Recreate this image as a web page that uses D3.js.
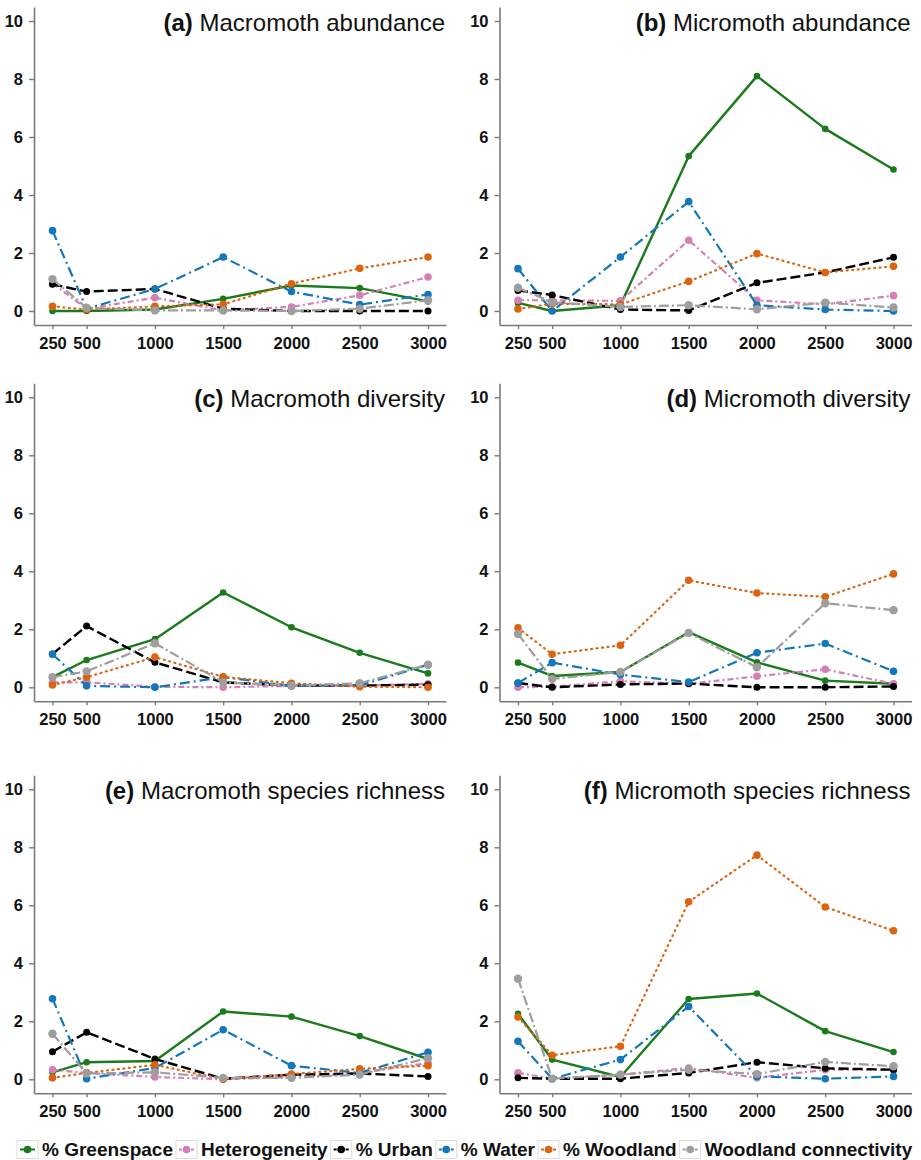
<!DOCTYPE html>
<html>
<head>
<meta charset="utf-8">
<script src="https://cdn.jsdelivr.net/npm/d3@7"></script>
<style>
  html, body { margin: 0; padding: 0; background: #fff; }
  svg { display: block; font-family: "Liberation Sans", Arial, Helvetica, sans-serif; }
</style>
</head>
<body>
<svg id="chart" width="921" height="1160"></svg>
<script>
// ---------- data ----------
const distances = [250, 500, 1000, 1500, 2000, 2500, 3000];
const yTicks = [0, 2, 4, 6, 8, 10];
const seriesNames = ["% Greenspace", "Heterogeneity", "% Urban", "% Water", "% Woodland", "Woodland connectivity"];
const panelLetters = ["(a)", "(b)", "(c)", "(d)", "(e)", "(f)"];
const panelTitles = ["Macromoth abundance", "Micromoth abundance", "Macromoth diversity",
                     "Micromoth diversity", "Macromoth species richness", "Micromoth species richness"];

// each panel: one row per series (Greenspace, Heterogeneity, Urban, Water, Woodland, Woodland connectivity)
const panelA = [
  [0, 0, 0.05, 0.42, 0.88, 0.79, 0.33],
  [0.95, 0.08, 0.46, 0.02, 0.14, 0.54, 1.17],
  [0.92, 0.67, 0.76, 0.08, 0, 0, 0],
  [2.77, 0.08, 0.76, 1.86, 0.67, 0.22, 0.57],
  [0.16, 0.05, 0.16, 0.23, 0.94, 1.47, 1.86],
  [1.10, 0.11, 0.02, 0.02, 0, 0.08, 0.37]
];
const panelB = [
  [0.28, 0, 0.20, 5.34, 8.10, 6.28, 4.88],
  [0.37, 0.37, 0.35, 2.44, 0.37, 0.23, 0.53],
  [0.71, 0.55, 0.05, 0.02, 0.97, 1.33, 1.85],
  [1.46, 0, 1.86, 3.77, 0.20, 0.05, 0],
  [0.07, 0.25, 0.23, 1.02, 1.98, 1.33, 1.54],
  [0.80, 0.30, 0.14, 0.20, 0.06, 0.29, 0.12]
];
const panelC = [
  [0.35, 0.94, 1.66, 3.27, 2.07, 1.19, 0.48],
  [0.17, 0.17, 0.02, 0, 0.05, 0.06, 0.12],
  [1.15, 2.11, 0.86, 0.17, 0.06, 0.06, 0.09],
  [1.14, 0.05, 0, 0.35, 0.05, 0.06, 0.78],
  [0.08, 0.35, 1.04, 0.36, 0.14, 0.02, 0],
  [0.35, 0.55, 1.52, 0.17, 0.06, 0.14, 0.78]
];
const panelD = [
  [0.85, 0.39, 0.53, 1.90, 0.86, 0.23, 0.12],
  [0, 0.02, 0.21, 0.12, 0.38, 0.62, 0.12],
  [0.15, 0, 0.10, 0.13, 0, 0, 0.03],
  [0.15, 0.85, 0.44, 0.18, 1.19, 1.51, 0.55],
  [2.05, 1.14, 1.45, 3.69, 3.25, 3.12, 3.91],
  [1.84, 0.29, 0.53, 1.87, 0.69, 2.90, 2.66]
];
const panelE = [
  [0.24, 0.59, 0.63, 2.34, 2.16, 1.49, 0.70],
  [0.33, 0.22, 0.08, 0, 0.08, 0.22, 0.56],
  [0.95, 1.62, 0.70, 0.02, 0.16, 0.20, 0.10],
  [2.78, 0.02, 0.39, 1.71, 0.47, 0.22, 0.93],
  [0.05, 0.22, 0.50, 0, 0.18, 0.36, 0.47],
  [1.57, 0.20, 0.24, 0.05, 0.05, 0.16, 0.73]
];
const panelF = [
  [2.26, 0.68, 0.08, 2.77, 2.96, 1.66, 0.94],
  [0.22, 0.02, 0.16, 0.39, 0.05, 0.33, 0.33],
  [0.05, 0.02, 0.02, 0.22, 0.59, 0.38, 0.33],
  [1.31, 0.02, 0.68, 2.51, 0.10, 0.02, 0.10],
  [2.15, 0.83, 1.14, 6.12, 7.73, 5.94, 5.12],
  [3.47, 0.02, 0.16, 0.33, 0.18, 0.60, 0.45]
];
const panels = [panelA, panelB, panelC, panelD, panelE, panelF];

// ---------- styles ----------
const colors = ["#1b7a1b", "#d47fb5", "#000000", "#1377b9", "#dc6410", "#9e9e9e"];
const dashes = ["none", "6,3,2,3", "10,4", "10,4,2,4", "1,4.5", "10,3,2,3"];
const widths = [2.4, 2.2, 2.4, 2.2, 2.2, 2.2];
const radii = [3.3, 3.8, 3.5, 3.8, 3.8, 4.2];

// ---------- layout ----------
const colX = [34, 499.5];            // y-axis position of each column
const plotW = 412;                   // axis length in x
const rowY10 = [21, 397.3, 789.3];   // pixel row of value 10
const unitPx = 29;                   // pixels per unit
const pad = 14;

const svg = d3.select("#chart");

panels.forEach((data, i) => {
  const col = i % 2, row = Math.floor(i / 2);
  const ox = colX[col];
  const top = rowY10[row] - pad;
  const bottom = rowY10[row] + 10 * unitPx + pad;

  const x = d3.scaleLinear()
    .domain([250 - 18.5 / 0.13655, 3000 + 18 / 0.13655])
    .range([ox, ox + plotW]);
  const y = d3.scaleLinear()
    .domain([-pad / unitPx, 10 + pad / unitPx])
    .range([bottom, top]);

  const g = svg.append("g");

  // axes
  const xAxis = d3.axisBottom(x).tickValues(distances).tickFormat(d3.format("d"))
    .tickSizeInner(4).tickSizeOuter(0).tickPadding(8);
  const yAxis = d3.axisLeft(y).tickValues(yTicks).tickFormat(d3.format("d"))
    .tickSizeInner(5).tickSizeOuter(0).tickPadding(6);

  const gx = g.append("g").attr("transform", `translate(0,${bottom})`).call(xAxis);
  const gy = g.append("g").attr("transform", `translate(${ox},0)`).call(yAxis);
  [gx, gy].forEach(a => {
    a.select(".domain").attr("stroke", "#7a7a7a").attr("stroke-width", 1.6);
    a.selectAll(".tick line").attr("stroke", "#7a7a7a").attr("stroke-width", 1.4);
    a.selectAll(".tick text")
      .attr("fill", "#111")
      .style("font-family", "'Liberation Sans', Arial, sans-serif")
      .style("font-size", "16.5px")
      .style("font-weight", "bold");
  });

  // title
  const t = g.append("text")
    .attr("x", ox + plotW - 1)
    .attr("y", rowY10[row] + 10)
    .attr("text-anchor", "end")
    .style("font-size", "24px")
    .attr("fill", "#111");
  t.append("tspan").style("font-weight", "bold").text(panelLetters[i]);
  t.append("tspan").text(" " + panelTitles[i]);

  // series
  const line = d3.line().x((d, k) => x(distances[k])).y(d => y(d));
  data.forEach((vals, s) => {
    const sg = g.append("g");
    sg.append("path")
      .datum(vals)
      .attr("d", line)
      .attr("fill", "none")
      .attr("stroke", colors[s])
      .attr("stroke-width", widths[s])
      .attr("stroke-dasharray", dashes[s])
      .attr("stroke-linecap", s === 4 ? "round" : "butt")
      .attr("stroke-linejoin", "round");
    sg.selectAll("circle")
      .data(vals)
      .join("circle")
      .attr("cx", (d, k) => x(distances[k]))
      .attr("cy", d => y(d))
      .attr("r", radii[s])
      .attr("fill", colors[s]);
  });
});

// ---------- legend ----------
const legend = svg.append("g");
let lx = 17;
const keyW = 21, keyH = 18, keyCy = 1149.5;
seriesNames.forEach((name, s) => {
  const kg = legend.append("g");
  kg.append("rect")
    .attr("x", lx).attr("y", keyCy - keyH / 2)
    .attr("width", keyW).attr("height", keyH)
    .attr("fill", "#fff").attr("stroke", "#dcdcdc").attr("stroke-width", 1);
  kg.append("line")
    .attr("x1", lx + 3).attr("x2", lx + keyW - 3)
    .attr("y1", keyCy).attr("y2", keyCy)
    .attr("stroke", colors[s]).attr("stroke-width", 2)
    .attr("stroke-dasharray", dashes[s] === "none" ? null : "3,1");
  kg.append("circle")
    .attr("cx", lx + keyW / 2).attr("cy", keyCy).attr("r", 3.8)
    .attr("fill", colors[s]);
  const tx = legend.append("text")
    .attr("x", lx + keyW + 4)
    .attr("y", keyCy + 6.5)
    .style("font-size", "19px")
    .style("font-weight", "bold")
    .attr("fill", "#111")
    .text(name);
  lx = lx + keyW + 4 + tx.node().getComputedTextLength() + 3;
});
</script>
</body>
</html>
